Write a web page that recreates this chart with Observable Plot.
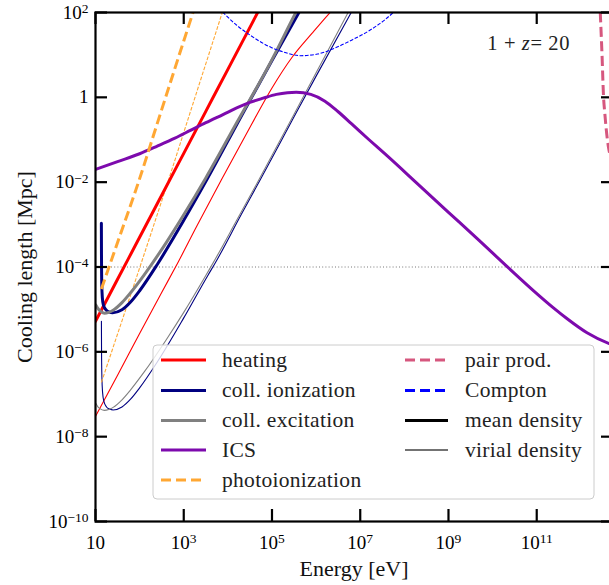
<!DOCTYPE html>
<html><head><meta charset="utf-8">
<script src="https://cdn.jsdelivr.net/npm/d3@7"></script>
<script src="https://cdn.jsdelivr.net/npm/@observablehq/plot@0.6"></script>
<style>
html,body{margin:0;padding:0;background:#fff;overflow:hidden;}
#chart{width:609px;height:585px;overflow:hidden;position:relative;}
</style></head><body><div id="chart"></div>
<script>
// Values as [log10 Energy (eV), log10 Cooling length (Mpc)]
const heatingMean = [[1.0,-5.28],[1.5,-4.29],[2.0,-3.30],[2.5,-2.31],[3.0,-1.32],[3.5,-0.33],[4.0,0.66],[4.5,1.65],[4.8,2.25]];
const heatingVirial = [[1.0,-7.52],[1.5,-6.55],[2.0,-5.57],[2.5,-4.6],[2.82,-3.99],[3.3,-3.03],[3.86,-1.93],[4.52,-0.67],[5.0,0.22],[5.46,0.95],[5.9,1.5],[6.29,1.97],[6.45,2.15]];
const collIonMean = [[1.133,-2.97],[1.136,-3.8],[1.142,-4.4],[1.155,-4.72],[1.18,-4.9],[1.23,-5.0],[1.3,-5.06],[1.39,-5.08],[1.6,-5.01],[1.8,-4.82],[2.0,-4.56],[2.4,-3.94],[3.0,-2.9],[3.54,-1.91],[4.3,-0.45],[5.0,0.87],[5.61,2.0],[5.7,2.17]];
const collIonVirial = [[1.134,-5.28],[1.137,-6.0],[1.145,-6.6],[1.16,-6.95],[1.19,-7.17],[1.25,-7.3],[1.32,-7.35],[1.4,-7.37],[1.6,-7.3],[1.8,-7.11],[2.0,-6.85],[2.4,-6.24],[3.0,-5.2],[3.54,-4.21],[3.7,-3.93],[4.3,-2.77],[4.74,-1.93],[5.5,-0.46],[6.0,0.5],[6.78,1.97],[6.85,2.1]];
const collExcMean = [[1.01,-4.90],[1.05,-4.97],[1.1,-5.03],[1.2,-5.09],[1.3,-5.07],[1.4,-5.02],[1.6,-4.84],[1.8,-4.6],[2.1,-4.19],[2.6,-3.43],[3.0,-2.77],[3.5,-1.9],[4.2,-0.6],[4.93,0.75],[5.54,2.0],[5.6,2.12]];
const collExcVirial = [[1.01,-7.22],[1.05,-7.29],[1.1,-7.34],[1.2,-7.38],[1.3,-7.36],[1.4,-7.31],[1.6,-7.13],[1.8,-6.89],[2.1,-6.48],[2.6,-5.72],[3.0,-5.07],[3.5,-4.2],[3.64,-3.95],[4.2,-2.9],[4.67,-2.01],[5.5,-0.4],[6.0,0.58],[6.71,1.97],[6.8,2.15]];
const ics = [[1.0,-1.70],[1.5,-1.515],[2.0,-1.33],[2.4,-1.15],[2.8,-0.962],[3.15,-0.78],[3.5,-0.598],[3.9,-0.40],[4.2,-0.25],[4.5,-0.12],[4.8,-0.02],[5.1,0.07],[5.35,0.11],[5.55,0.12],[5.88,0.07],[6.2,-0.09],[6.5,-0.34],[6.8,-0.62],[7.2,-1.0],[7.6,-1.37],[8.3,-2.04],[9.0,-2.71],[9.7,-3.38],[10.33,-3.99],[10.93,-4.56],[11.4,-4.98],[11.69,-5.22],[12.14,-5.55],[12.63,-5.8],[12.74,-5.84]];
const photoMean = [[1.134,-4.52],[1.5,-3.42],[1.919,-2.17],[2.5,-0.29],[3.0,1.33],[3.2,1.97],[3.3,2.3]];
const photoVirial = [[1.134,-6.72],[1.5,-5.58],[2.01,-3.99],[2.636,-2.01],[3.2,-0.18],[3.864,1.97],[3.95,2.25]];
const pairProd = [[12.44,2.0],[12.48,1.0],[12.513,0.04],[12.545,-0.4],[12.575,-0.75],[12.627,-1.18],[12.66,-1.35]];
const compton = [[3.88,2.01],[4.2,1.7],[4.52,1.455],[4.973,1.18],[5.274,1.063],[5.65,0.982],[6.03,1.02],[6.4,1.15],[6.78,1.336],[7.2,1.57],[7.536,1.81],[7.76,2.01]];
const refLevel = [1e-4];

const xTicks = [1e1,1e3,1e5,1e7,1e9,1e11];
const xTickLabels = ["10","10^3","10^5","10^7","10^9","10^11"];
const yTicks = [1e-10,1e-8,1e-6,1e-4,1e-2,1,1e2];
const yTickLabels = ["10^\u221210","10^\u22128","10^\u22126","10^\u22124","10^\u22122","1","10^2"];

const legendLeft = ["heating","coll. ionization","coll. excitation","ICS","photoionization"];
const legendRight = ["pair prod.","Compton","mean density","virial density"];

const C = {heat:"#ff0000", ion:"#000080", exc:"#808080", ics:"#7d0aad", photo:"#ffa733", pair:"#d6577e", comp:"#0000ff"};

const series = [
  {d: heatingVirial, c: C.heat, w: 1.1},
  {d: collIonVirial, c: C.ion, w: 1.1},
  {d: collExcVirial, c: C.exc, w: 1.1},
  {d: photoVirial, c: C.photo, w: 1.1, dash: "3.7,1.6"},
  {d: heatingMean, c: C.heat, w: 3},
  {d: collIonMean, c: C.ion, w: 3},
  {d: collExcMean, c: C.exc, w: 3},
  {d: ics, c: C.ics, w: 3},
  {d: photoMean, c: C.photo, w: 3, dash: "10,4.5"},
  {d: pairProd, c: C.pair, w: 3, dash: "10,4.5"},
  {d: compton, c: C.comp, w: 1.1, dash: "3.7,1.6"}
];

const W = 609, H = 585, mL = 95, mR = -4, mT = 12, mB = 64;
const innerW = W - mL - mR, innerH = H - mT - mB;
const tl = 12;
const fmtX = d => xTickLabels[xTicks.findIndex(t => Math.abs(Math.log10(t) - Math.log10(d)) < 1e-6)];
const fmtY = d => yTickLabels[yTicks.findIndex(t => Math.abs(Math.log10(t) - Math.log10(d)) < 1e-6)];

const lineMarks = series.map(s => Plot.line(s.d.map(([e, l]) => ({E: 10 ** e, L: 10 ** l})), {
  x: "E", y: "L", stroke: s.c, strokeWidth: s.w, strokeDasharray: s.dash || null,
  curve: "monotone-x", clip: true, strokeLinecap: s.dash ? "butt" : "round"
}));

const chart = Plot.plot({
  width: W, height: H, marginLeft: mL, marginRight: mR, marginTop: mT, marginBottom: mB,
  style: {fontFamily: "'Liberation Serif', serif", fontSize: "19px", color: "black", background: "white"},
  x: {type: "log", domain: [10, 10 ** 12.74]},
  y: {type: "log", domain: [1e-10, 1e2]},
  marks: [
    Plot.ruleY(refLevel, {y: d => d, stroke: "#777", strokeWidth: 1, strokeDasharray: "1,2.2"}),
    ...lineMarks,
    Plot.frame({stroke: "black", strokeWidth: 2.2}),
    Plot.tickX(xTicks, {x: d => d, stroke: "black", strokeWidth: 2.2, insetTop: innerH - tl}),
    Plot.tickX(xTicks, {x: d => d, stroke: "black", strokeWidth: 2.2, insetBottom: innerH - tl}),
    Plot.tickY(yTicks, {y: d => d, stroke: "black", strokeWidth: 2.2, insetRight: innerW - tl}),
    Plot.tickY(yTicks, {y: d => d, stroke: "black", strokeWidth: 2.2, insetLeft: innerW - tl}),
    Plot.axisX(xTicks, {tickSize: 0, tickPadding: 14, tickFormat: fmtX, fontSize: 19, label: null}),
    Plot.axisY(yTicks, {tickSize: 0, tickPadding: 7, tickFormat: fmtY, fontSize: 19, label: null})
  ]
});
document.getElementById("chart").appendChild(chart);

const svg = d3.select(chart);
// superscripts in tick labels
svg.selectAll("text").each(function () {
  const t = this.textContent; const k = t.indexOf("^");
  if (k < 0) return;
  this.textContent = t.slice(0, k);
  d3.select(this).append("tspan").attr("dy", "-0.42em").attr("font-size", "13.5px").text(t.slice(k + 1));
});

const ff = "'Liberation Serif', serif";
// axis titles
svg.append("text").attr("x", 354).attr("y", 576).attr("text-anchor", "middle")
  .attr("font-family", ff).attr("font-size", 22).attr("fill", "#111").text("Energy [eV]");
svg.append("text").attr("transform", "translate(32,267) rotate(-90)").attr("text-anchor", "middle")
  .attr("font-family", ff).attr("font-size", 22).attr("fill", "#111").text("Cooling length [Mpc]");
// annotation
const ann = svg.append("text").attr("x", 570).attr("y", 50).attr("text-anchor", "end")
  .attr("font-family", ff).attr("font-size", 20.5).attr("letter-spacing", 0.6).attr("fill", "#222");
ann.append("tspan").text("1 + ");
ann.append("tspan").attr("font-style", "italic").text("z");
ann.append("tspan").text("= 20");

// legend
const lg = svg.append("g").attr("text-anchor", "start");
lg.append("rect").attr("x", 153).attr("y", 345).attr("width", 441).attr("height", 154).attr("rx", 4)
  .attr("fill", "white").attr("fill-opacity", 0.8).attr("stroke", "#cccccc").attr("stroke-width", 1);
const leftStyles = [[C.heat, 3, null], [C.ion, 3, null], [C.exc, 3, null], [C.ics, 3, null], [C.photo, 3, "10,5"]];
const rightStyles = [[C.pair, 3, "10,5"], [C.comp, 3, "10,5"], ["#000", 3, null], ["#444", 1.5, null]];
function entry(x0, x1, tx, y, label, st) {
  lg.append("line").attr("x1", x0).attr("x2", x1).attr("y1", y).attr("y2", y)
    .attr("stroke", st[0]).attr("stroke-width", st[1]).attr("stroke-dasharray", st[2]);
  lg.append("text").attr("x", tx).attr("y", y + 6.5).attr("text-anchor", "start").attr("font-family", ff)
    .attr("font-size", 21.5).attr("letter-spacing", 0.3).attr("fill", "#222").text(label);
}
const rowY = [360, 390.5, 420.5, 450, 480];
legendLeft.forEach((l, i) => entry(161, 206, 222, rowY[i], l, leftStyles[i]));
legendRight.forEach((l, i) => entry(405, 448, 465, rowY[i], l, rightStyles[i]));
</script></body></html>
